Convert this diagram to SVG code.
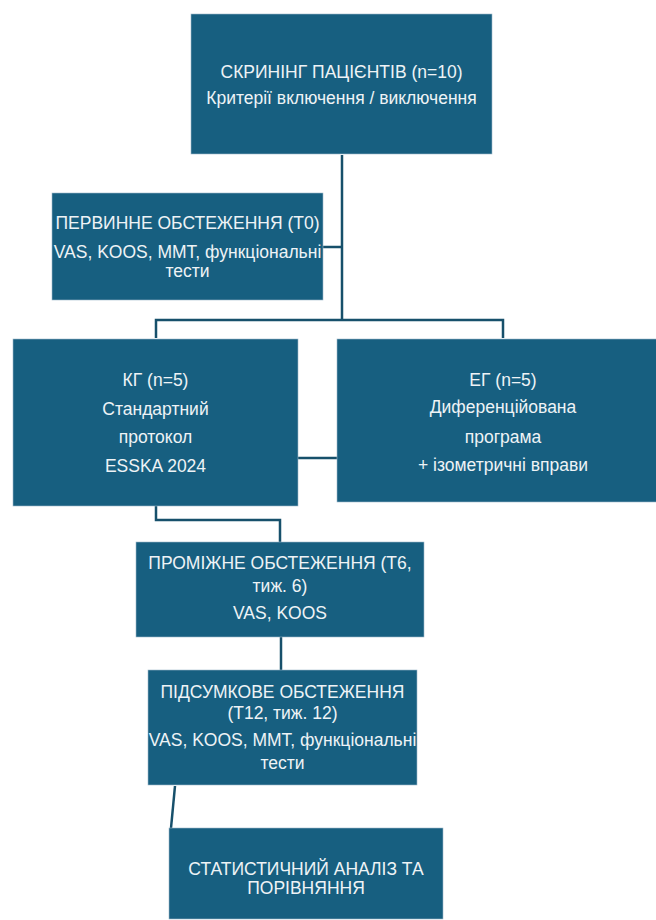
<svg xmlns="http://www.w3.org/2000/svg" width="656" height="920" viewBox="0 0 656 920">
<style>
.box{fill:#175f80;stroke:#9fb9c9;stroke-width:0.6}
.t{font-family:"Liberation Sans",Arial,sans-serif;font-size:17.5px;fill:#eef3f6;text-anchor:middle}
.c{fill:none;stroke:#17506b;stroke-width:2.5}
</style>
<rect width="656" height="920" fill="#ffffff"/>
<g id="connectors">
<path class="c" d="M342,155 V320"/>
<path class="c" d="M323,247 H343"/>
<path class="c" d="M156,338 V320 H503 V338"/>
<path class="c" d="M298,458 H337"/>
<path class="c" d="M156,506 V520 H280 V542"/>
<path class="c" d="M281,637 V670"/>
<path class="c" d="M175,786 L171,828"/>
</g>
<g id="screening">
<rect class="box" x="191" y="14" width="301" height="140"/>
<text class="t" x="341.5" y="78">СКРИНІНГ ПАЦІЄНТІВ (n=10)</text>
<text class="t" x="341.5" y="104">Критерії включення / виключення</text>
</g>
<g id="baseline">
<rect class="box" x="52" y="193" width="271" height="107"/>
<text class="t" x="187.5" y="229">ПЕРВИННЕ ОБСТЕЖЕННЯ (Т0)</text>
<text class="t" x="187.5" y="258">VAS, KOOS, MMT, функціональні</text>
<text class="t" x="187.5" y="277">тести</text>
</g>
<g id="kg">
<rect class="box" x="13" y="339" width="285" height="167"/>
<text class="t" x="155.5" y="386">КГ (n=5)</text>
<text class="t" x="155.5" y="415">Стандартний</text>
<text class="t" x="155.5" y="443">протокол</text>
<text class="t" x="155.5" y="472">ESSKA 2024</text>
</g>
<g id="eg">
<rect class="box" x="337" y="339" width="333" height="163"/>
<text class="t" x="503" y="386">ЕГ (n=5)</text>
<text class="t" x="503" y="413">Диференційована</text>
<text class="t" x="503" y="443">програма</text>
<text class="t" x="503" y="471">+ ізометричні вправи</text>
</g>
<g id="interim">
<rect class="box" x="136" y="542" width="288" height="95"/>
<text class="t" x="280" y="569">ПРОМІЖНЕ ОБСТЕЖЕННЯ (Т6,</text>
<text class="t" x="280" y="592">тиж. 6)</text>
<text class="t" x="280" y="619">VAS, KOOS</text>
</g>
<g id="final">
<rect class="box" x="148" y="670" width="269" height="115"/>
<text class="t" x="282.5" y="698">ПІДСУМКОВЕ ОБСТЕЖЕННЯ</text>
<text class="t" x="282.5" y="719">(Т12, тиж. 12)</text>
<text class="t" x="282.5" y="746">VAS, KOOS, MMT, функціональні</text>
<text class="t" x="282.5" y="769">тести</text>
</g>
<g id="stats">
<rect class="box" x="169" y="828" width="274" height="91"/>
<text class="t" x="306" y="875">СТАТИСТИЧНИЙ АНАЛІЗ ТА</text>
<text class="t" x="306" y="894">ПОРІВНЯННЯ</text>
</g>
</svg>
